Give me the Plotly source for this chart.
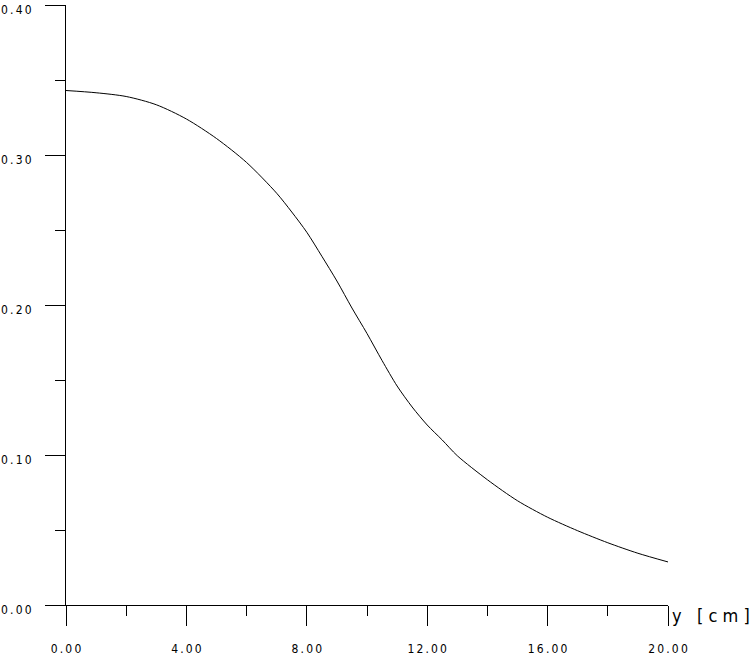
import plotly.graph_objects as go

# profile
y_cm = [0, 1, 2, 3, 4, 5, 6, 7, 7.5, 8, 8.5, 9, 9.5, 10, 10.5, 11, 11.5, 12, 12.5, 13,
        14, 15, 16, 17, 18, 19, 20]
value = [0.343, 0.3415, 0.339, 0.3335, 0.324, 0.311, 0.295, 0.2745, 0.262, 0.2485, 0.2325,
         0.216, 0.198, 0.181, 0.163, 0.146, 0.132, 0.120, 0.110, 0.0995,
         0.0835, 0.0695, 0.0585, 0.0495, 0.0415, 0.0345, 0.0287]

sp = '\u2009'  # thin space, the labels are letter-spaced
x_ticks = [0, 4, 8, 12, 16, 20]
x_labels = [sp.join(s) for s in ['0.00', '4.00', '8.00', '12.00', '16.00', '20.00']]
y_ticks = [0, 0.1, 0.2, 0.3, 0.4]
y_labels = [sp.join(s) for s in ['0.00', '0.10', '0.20', '0.30', '0.40']]

font = dict(family='DejaVu Sans Condensed, Liberation Sans Narrow, sans-serif', size=12, color='black')

fig = go.Figure()
fig.add_trace(go.Scatter(x=y_cm, y=value, mode='lines',
                         line=dict(color='black', width=1, shape='spline', smoothing=0.8),
                         showlegend=False, cliponaxis=False, hoverinfo='skip'))

fig.update_layout(
    width=753, height=661,
    margin=dict(l=66, r=85, t=5, b=56),
    paper_bgcolor='white', plot_bgcolor='white',
    font=font,
    xaxis=dict(range=[0, 20], tickvals=x_ticks, ticktext=x_labels, ticks='outside', ticklen=20,
               tickcolor='black', tickwidth=1, showgrid=False, zeroline=False, automargin=False,
               showline=True, linecolor='black', linewidth=1, ticklabelstandoff=13,
               ticklabeloverflow='allow',
               minor=dict(dtick=2, ticks='outside', ticklen=10, tickcolor='black', tickwidth=1, showgrid=False)),
    yaxis=dict(range=[0, 0.4], tickvals=y_ticks, ticktext=y_labels, ticks='outside', ticklen=20,
               tickcolor='black', tickwidth=1, showgrid=False, zeroline=False, automargin=False,
               showline=True, linecolor='black', linewidth=1, ticklabelstandoff=11, ticklabelshift=5,
               ticklabeloverflow='allow',
               minor=dict(dtick=0.05, ticks='outside', ticklen=10, tickcolor='black', tickwidth=1, showgrid=False)),
)

fig.add_annotation(text='y\u00a0\u00a0\u00a0[\u00a0c\u00a0m\u00a0]', xref='paper', yref='paper', x=1, y=0,
                   xanchor='left', yanchor='top', xshift=2, yshift=2, showarrow=False,
                   font=dict(family=font['family'], size=18, color='black'))

# the page body has a default 8px margin; drop it so the figure sits at the corner
fig.write_html('out.html', config={'displayModeBar': False},
               post_script="document.body.style.margin='0';")
